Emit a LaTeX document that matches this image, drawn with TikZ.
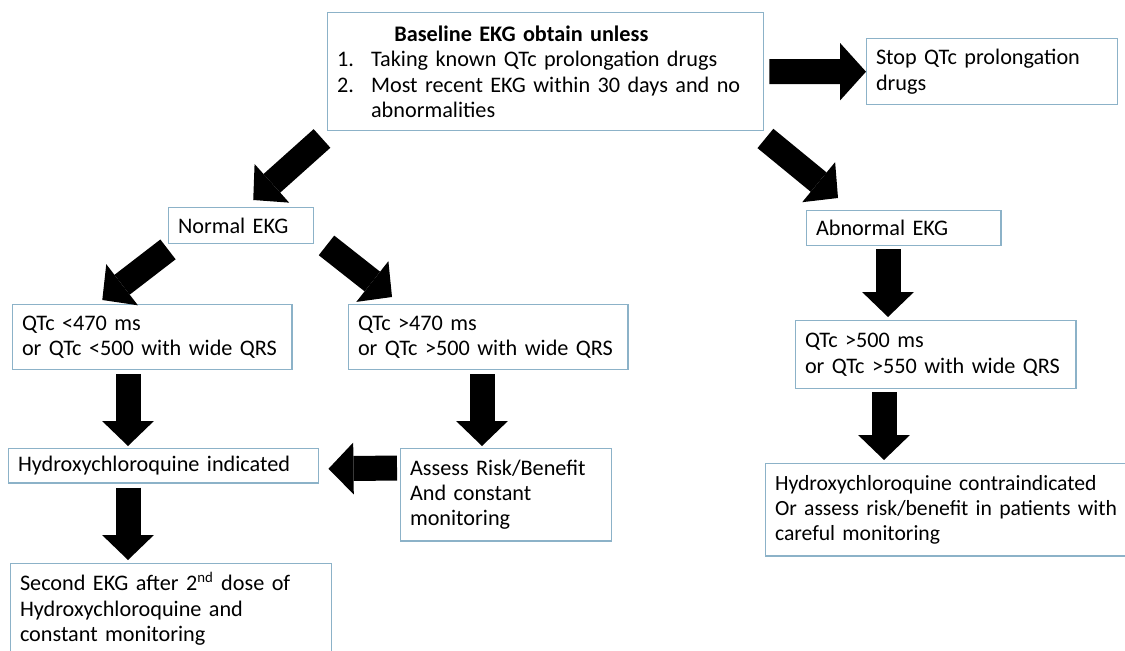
\documentclass[tikz,border=0pt]{standalone}
\usepackage{fontspec}
\setmainfont{Carlito}[WordSpace=0.6]
\usetikzlibrary{arrows.meta,calc}
\definecolor{boxline}{RGB}{140,178,200}
\begin{document}
\begin{tikzpicture}[x=0.54pt,y=-0.54pt,
  box/.style={draw=boxline,line width=0.8pt,anchor=north west,align=left,
    inner xsep=5pt,inner ysep=0pt,font=\fontsize{12}{13.7}\selectfont},
  fat/.style={line width=13.5pt,-{Triangle[width=28pt,length=13.5pt,line width=0pt]}}]
\useasboundingbox (0,0) rectangle (1125,651);
\node[box,text width=225.4pt,minimum height=63.7pt] (top) at (327,12)
  {\hspace*{31pt}\textbf{Baseline EKG obtain unless}\\
   \makebox[18.4pt][l]{1.}Taking known QTc prolongation drugs\\
   \makebox[18.4pt][l]{2.}Most recent EKG within 30 days and no\\
   \hspace*{18.4pt}abnormalities};
\node[box,text width=125.5pt,minimum height=35.6pt] (stop) at (866,38) {Stop QTc prolongation\\drugs};
\node[box,text width=68.3pt,minimum height=19.4pt] (normal) at (168,207) {Normal EKG};
\node[box,text width=94.8pt,minimum height=18.9pt] (abnormal) at (806,210) {Abnormal EKG};
\node[box,text width=140.7pt,minimum height=35.1pt] (lt470) at (12,304) {QTc <470 ms\\or QTc <500 with wide QRS};
\node[box,text width=140.7pt,minimum height=35.1pt] (gt470) at (348,304) {QTc >470 ms\\or QTc >500 with wide QRS};
\node[box,text width=141.2pt,minimum height=36.7pt] (gt500) at (795,320) {QTc >500 ms\\or QTc >550 with wide QRS};
\node[box,text width=157.4pt,minimum height=18.4pt] (hcqok) at (8,448) {Hydroxychloroquine indicated};
\node[box,text width=103.9pt,minimum height=49.7pt] (assess) at (400,448) {Assess Risk/Benefit\\And constant\\monitoring};
\node[box,text width=200pt,minimum height=49.7pt,font=\fontsize{11.7}{13.7}\selectfont] (contra) at (765,463) {Hydroxychloroquine contraindicated\\Or assess risk/benefit in patients with\\careful monitoring};
\node[box,text width=163.3pt,minimum height=48.6pt] (second) at (10,563) {Second EKG after 2\textsuperscript{nd} dose of\\Hydroxychloroquine and\\constant monitoring};
\draw[fat,-{Triangle[width=31pt,length=14pt,line width=0pt]}] ($(top.east)+(5,0)$) -- (stop.west);
\draw[fat] ($(top.south west)+(-5,7)$) -- ($(normal.north)+(12,-7)$);
\draw[fat] ($(top.south east)+(1,7)$) -- ($(abnormal.north west)+(32,-12)$);
\draw[fat] ($(normal.south west)+(0,5)$) -- ($(lt470.north)+(-50,-4)$);
\draw[fat] ($(normal.south east)+(12,1)$) -- ($(gt470.north west)+(44,-7)$);
\draw[fat] ($(lt470.south west)+(116,4)$) -- ($(hcqok.north west)+(120,-2)$);
\draw[fat] ($(gt470.south west)+(134,4)$) -- ($(assess.north west)+(82,-2)$);
\draw[fat] ($(assess.north west)+(-3,20)$) -- ($(hcqok.east)+(9,3)$);
\draw[fat] ($(hcqok.south west)+(120,4)$) -- ($(second.north west)+(118,-3)$);
\draw[fat] ($(abnormal.south west)+(82,3)$) -- ($(gt500.north west)+(93,-3)$);
\draw[fat] ($(gt500.south west)+(89,3)$) -- ($(contra.north west)+(119,-3)$);
\end{tikzpicture}
\end{document}
